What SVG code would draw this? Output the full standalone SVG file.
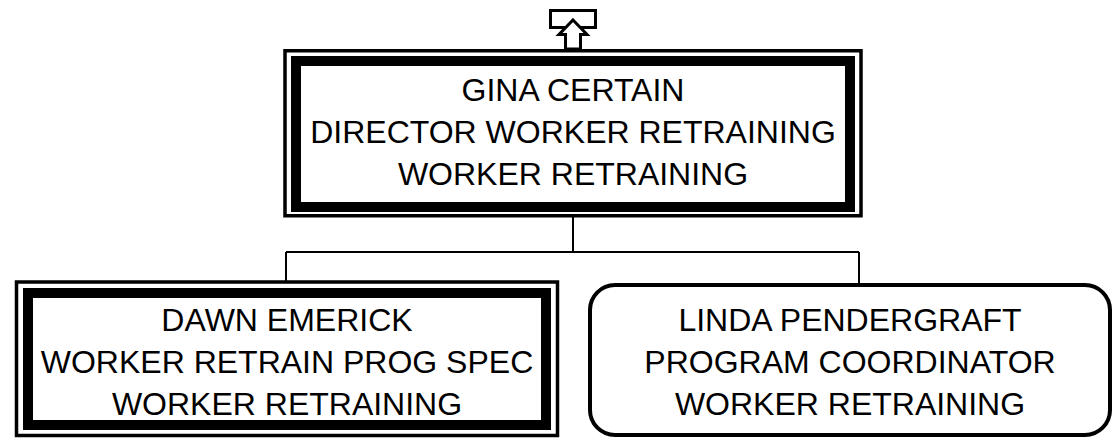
<svg xmlns="http://www.w3.org/2000/svg" width="1113" height="439" viewBox="0 0 1113 439">
<style>
.outer{fill:none;stroke:#000;stroke-width:3.5}
.thick{fill:none;stroke:#000;stroke-width:10}
.round{fill:#fff;stroke:#000;stroke-width:4}
.t{font-family:"Liberation Sans",Arial,sans-serif;font-size:32px;fill:#000;text-anchor:middle}
.c{fill:none;stroke:#000;stroke-width:2}
</style>
<rect width="1113" height="439" fill="#fff"/>
<g id="connectors">
<line class="c" x1="573" y1="217" x2="573" y2="252"/>
<line class="c" x1="286" y1="252" x2="859" y2="252"/>
<line class="c" x1="286" y1="252" x2="286" y2="281"/>
<line class="c" x1="859" y1="252" x2="859" y2="284"/>
</g>
<g id="up-icon">
<rect x="550.5" y="10.5" width="45" height="17" fill="#fff" stroke="#000" stroke-width="3"/>
<polygon points="573,20 587,34.5 580.5,34.5 580.5,49 565.5,49 565.5,34.5 559,34.5" fill="#fff" stroke="#000" stroke-width="3"/>
</g>
<g id="node-gina">
<rect class="outer" x="285" y="50.75" width="576" height="165"/>
<rect class="thick" x="296" y="61" width="554" height="146"/>
<text class="t" x="573" y="101">GINA CERTAIN</text>
<text class="t" x="573" y="143">DIRECTOR WORKER RETRAINING</text>
<text class="t" x="573" y="185">WORKER RETRAINING</text>
</g>
<g id="node-dawn">
<rect class="outer" x="16.5" y="282" width="541" height="153.5"/>
<rect class="thick" x="28" y="293" width="518" height="132"/>
<text class="t" x="287" y="331">DAWN EMERICK</text>
<text class="t" x="287" y="373">WORKER RETRAIN PROG SPEC</text>
<text class="t" x="287" y="415">WORKER RETRAINING</text>
</g>
<g id="node-linda">
<rect class="round" x="590" y="285" width="520" height="150" rx="25" ry="25"/>
<text class="t" x="850" y="331">LINDA PENDERGRAFT</text>
<text class="t" x="850" y="373">PROGRAM COORDINATOR</text>
<text class="t" x="850" y="415">WORKER RETRAINING</text>
</g>
</svg>
